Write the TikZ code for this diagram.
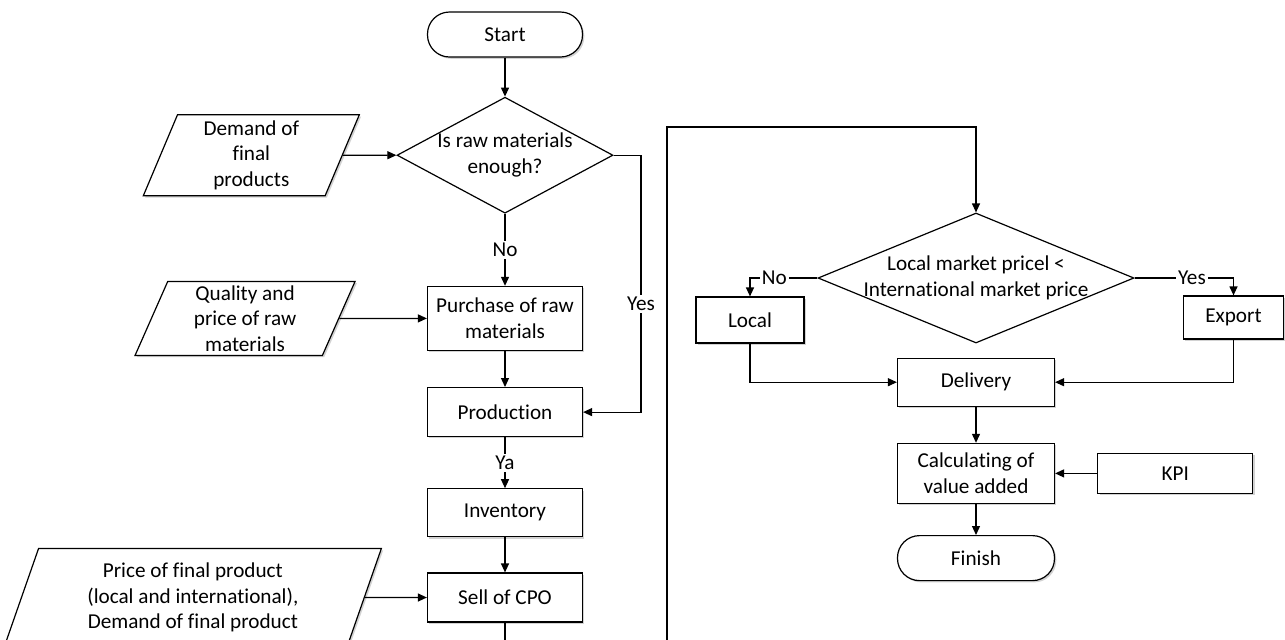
\documentclass[tikz,border=0pt]{standalone}
\usepackage{fontspec}
\setmainfont{Carlito}[Ligatures={NoCommon}]
\usetikzlibrary{shapes.geometric, arrows.meta, positioning, shadows}

\begin{document}
\begin{tikzpicture}[
    x=0.5pt, y=-0.5pt,
    font=\fontsize{10.6}{12.8}\selectfont,
    semithick,
    >={Triangle[length=4.5pt, width=4pt]},
    softshadow/.style={drop shadow={shadow xshift=0.9pt, shadow yshift=-0.9pt, fill=black!35, opacity=0.5}},
    process/.style={rectangle, draw, fill=white, minimum width=#1, minimum height=24pt, align=center, inner sep=2pt, softshadow},
    process/.default=77.5pt,
    terminal/.style={rectangle, draw, fill=white, rounded corners=11pt, minimum width=77.5pt, minimum height=22.5pt, softshadow},
    decision/.style={diamond, draw, fill=white, inner sep=0pt},
    datain/.style={trapezium, trapezium left angle=65, trapezium right angle=115, trapezium stretches body, draw, fill=white, align=center, inner sep=1pt, softshadow},
    arrow/.style={->},
    lbl/.style={fill=white, inner sep=1pt},
]
    \useasboundingbox (0,0) rectangle (1285,639);
    \clip (0,0) rectangle (1285,639);

    % Production side
    \node[terminal] (start) at (505,34.5) {Start};
    \node[decision, minimum width=108pt, minimum height=58pt, below=19.5pt of start, label={[align=center]center:Is raw materials\\enough?}] (enough) {};
    \node[process, minimum height=32pt, below=36pt of enough] (purchase) {Purchase of raw\\materials};
    \node[process, minimum height=24.5pt, below=18pt of purchase] (production) {Production};
    \node[process, below=25.5pt of production] (inventory) {Inventory};
    \node[process, minimum height=24.5pt, below=17.5pt of inventory] (sell) {Sell of CPO};

    % Inputs
    \node[datain, minimum width=108pt, minimum height=40.5pt, left=26.75pt of enough] (demand) {Demand of\\final\\products};
    \node[datain, minimum width=110pt, minimum height=37pt, left=43.75pt of purchase] (quality) {Quality and\\price of raw\\materials};
    \node[datain, minimum width=188.5pt, minimum height=49pt, left=31pt of sell] (pricein) {Price of final product\\(local and international),\\Demand of final product};

    % Market side
    \node[decision, minimum width=158pt, minimum height=65pt, label={[align=center]center:Local market pricel <\\International market price}] (market) at (976,278) {};
    \node[process=54pt, minimum height=23pt] (local) at (750,320) {Local};
    \node[process=50pt, minimum height=21.5pt] (export) at (1233.5,317.5) {Export};
    \node[process=78.5pt, below=7pt of market] (delivery) {Delivery};
    \node[process=78.5pt, minimum height=30pt, below=18pt of delivery] (calc) {Calculating of\\value added};
    \node[terminal, minimum width=78.5pt, below=15.5pt of calc] (finish) {Finish};
    \node[process, minimum height=20pt, right=21pt of calc] (kpi) {KPI};

    \coordinate (yesturn) at (641,154);
    \coordinate (loopbot) at (667,660);
    \coordinate (looptop) at (667,127);

    \draw[arrow] (start) -- (enough);
    \draw[arrow] (demand) -- (enough);
    \draw[arrow] (enough) -- node[lbl] {No} (purchase);
    \draw[arrow] (enough.east) -- (enough.east -| yesturn) |- node[lbl, pos=0.29] {Yes} (production.east);
    \draw[arrow] (quality) -- (purchase);
    \draw[arrow] (purchase) -- (production);
    \draw[arrow] (production) -- node[lbl] {Ya} (inventory);
    \draw[arrow] (inventory) -- (sell);
    \draw[arrow] (pricein) -- (sell);
    \draw[arrow] (sell.south) |- (loopbot) -- (looptop) -| (market.north);
    \draw[arrow] (market.west) -| node[lbl, pos=0.32] {No} (local.north);
    \draw[arrow] (market.east) -| node[lbl, pos=0.29] {Yes} (export.north);
    \draw[arrow] (local.south) |- (delivery.west);
    \draw[arrow] (export.south) |- (delivery.east);
    \draw[arrow] (delivery) -- (calc);
    \draw[arrow] (kpi) -- (calc);
    \draw[arrow] (calc) -- (finish);
\end{tikzpicture}
\end{document}
